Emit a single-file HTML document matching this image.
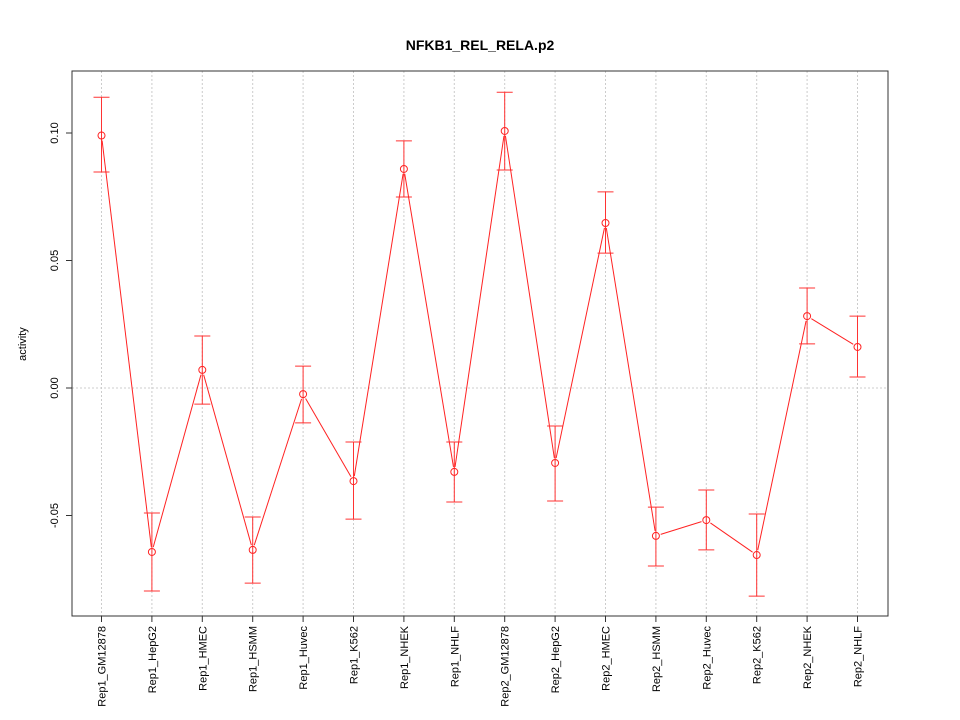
<!DOCTYPE html>
<html><head><meta charset="utf-8"><style>body{margin:0;background:#fff}svg{display:block;font-family:"Liberation Sans",sans-serif}</style></head>
<body>
<svg id="chart" width="960" height="720" xmlns="http://www.w3.org/2000/svg">
<text x="480" y="50" text-anchor="middle" font-size="14" font-weight="bold">NFKB1_REL_RELA.p2</text>
<text transform="translate(26,344) rotate(-90)" text-anchor="middle" font-size="11">activity</text>
<g id="grid"></g><g id="axes"></g><g id="marks"></g>
<rect x="72" y="71" width="816" height="545" fill="none" stroke="#333"/>
</svg>
<script>
const categories=["Rep1_GM12878","Rep1_HepG2","Rep1_HMEC","Rep1_HSMM","Rep1_Huvec","Rep1_K562","Rep1_NHEK","Rep1_NHLF","Rep2_GM12878","Rep2_HepG2","Rep2_HMEC","Rep2_HSMM","Rep2_Huvec","Rep2_K562","Rep2_NHEK","Rep2_NHLF"];
const values=[0.099,-0.0643,0.0071,-0.0635,-0.0024,-0.0365,0.0859,-0.0329,0.1008,-0.0294,0.0647,-0.058,-0.0518,-0.0655,0.0282,0.0161];
const upper=[0.114,-0.049,0.0204,-0.0506,0.0086,-0.0212,0.0969,-0.0212,0.116,-0.0149,0.0769,-0.0467,-0.04,-0.0494,0.0392,0.0282];
const lower=[0.0847,-0.0796,-0.0063,-0.0765,-0.0137,-0.0514,0.0749,-0.0447,0.0855,-0.0443,0.0529,-0.0698,-0.0635,-0.0816,0.0173,0.0043];
const yTicks=[-0.05,0,0.05,0.10];
const yTickLabels=["-0.05","0.00","0.05","0.10"];
const NS="http://www.w3.org/2000/svg";
const xs=i=>101.5+i*(756/(categories.length-1));
const ys=v=>388-v*2550;
function mk(p,t,a){const e=document.createElementNS(NS,t);for(const k in a)e.setAttribute(k,a[k]);p.appendChild(e);return e;}
const grid=document.getElementById('grid'),axes=document.getElementById('axes'),marks=document.getElementById('marks');
categories.forEach((c,i)=>{
 const g=mk(grid,'line',{x1:xs(i),x2:xs(i),y1:71,y2:616,stroke:'#ccc','stroke-dasharray':'2,2'});
 
 
 const t=mk(axes,'line',{x1:xs(i),x2:xs(i),y1:616,y2:622,stroke:'#333'});
 
 
 const l=mk(axes,'text',{transform:`translate(${xs(i)+4},626) rotate(-90)`,'text-anchor':'end','font-size':11});
 l.textContent=c;
 
 
});
const zg=mk(grid,'line',{x1:72,x2:888,y1:ys(0),y2:ys(0),stroke:'#ccc','stroke-dasharray':'2,2'});


yTicks.forEach((v,i)=>{
 const t=mk(axes,'line',{x1:66,x2:72,y1:ys(v),y2:ys(v),stroke:'#333'});
 
 
 const l=mk(axes,'text',{transform:`translate(${58},${ys(v)}) rotate(-90)`,'text-anchor':'middle','font-size':11});
 l.textContent=yTickLabels[i];
 
 
});
values.forEach((v,i)=>{
 const x=xs(i);
 const eb=mk(marks,'path',{d:`M${x},${ys(upper[i])}V${ys(lower[i])}M${x-8},${ys(upper[i])}H${x+8}M${x-8},${ys(lower[i])}H${x+8}`,stroke:'#f33',fill:'none'});
 
 
 if(i<values.length-1){
  const x2=xs(i+1),y1=ys(v),y2=ys(values[i+1]);
  const dx=x2-x,dy=y2-y1,L=Math.hypot(dx,dy),g=5;
  const s=mk(marks,'line',{x1:x+dx/L*g,y1:y1+dy/L*g,x2:x2-dx/L*g,y2:y2-dy/L*g,stroke:'#f22'});
  
  
 }
 const p=mk(marks,'circle',{cx:x,cy:ys(v),r:3.5,fill:'none',stroke:'#f22'});
 
 
});
</script>
</body></html>
